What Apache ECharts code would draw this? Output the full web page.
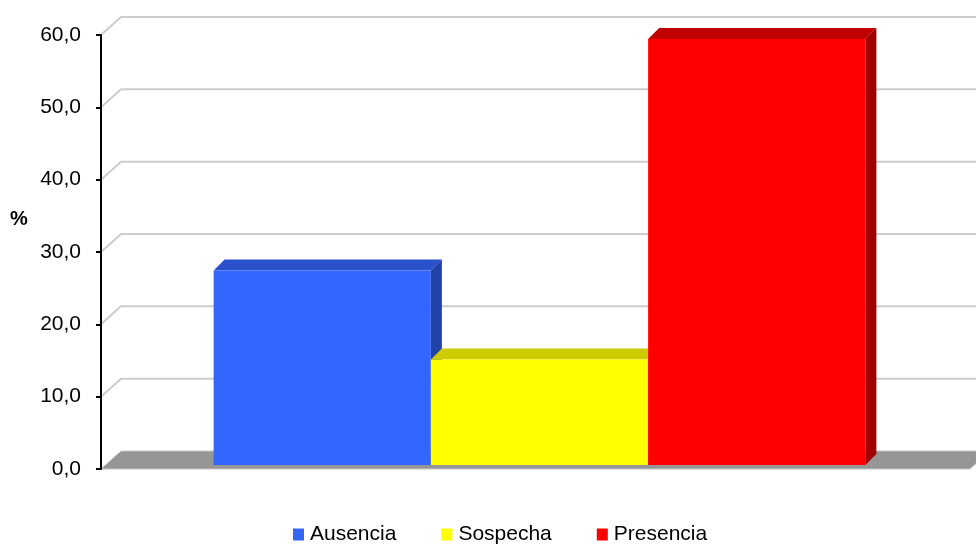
<!DOCTYPE html>
<html>
<head>
<meta charset="utf-8">
<script src="https://cdn.jsdelivr.net/npm/echarts@6/dist/echarts.min.js"></script>
<style>
  html, body { margin: 0; padding: 0; background: #ffffff; }
  #chart { width: 976px; height: 544px; }
</style>
</head>
<body>
<div id="chart"></div>
<script>
// Single category group holding the three series side by side
const categories = [''];
const seriesNames = ['Ausencia', 'Sospecha', 'Presencia'];
const values = [26.9, 14.6, 58.9];
const gridValues = [10, 20, 30, 40, 50, 60];

const frontColors = ['#3366FF', '#FFFF00', '#FF0000'];
const topColors = ['#2A50CC', '#CCCC00', '#C00000'];
const sideColors = ['#2142A6', '#A6A600', '#A00000'];

// Perspective offsets (pixels)
const WALL_DX = 20, WALL_DY = -18;   // back wall relative to the front plane
const FACE_DX = 4, FACE_DY = -4;     // bar front face depth
const BAR_DX = 11, BAR_DY = -11;     // bar depth

const chart = echarts.init(document.getElementById('chart'));

function barRenderer(idx) {
  return function (params, api) {
    const v = api.value(1);
    const band = api.size([1, 0])[0];
    const w = band / 4;
    const center = api.coord([api.value(0), 0]);
    const xl = center[0] - 1.5 * w + idx * w + FACE_DX;
    const xr = xl + w;
    const yb = center[1] + FACE_DY;
    const yt = api.coord([api.value(0), v])[1] + FACE_DY;
    return {
      type: 'group',
      children: [
        { type: 'polygon', shape: { points: [[xl, yt], [xl + BAR_DX, yt + BAR_DY], [xr + BAR_DX, yt + BAR_DY], [xr, yt]] },
          style: { fill: topColors[idx] } },
        { type: 'polygon', shape: { points: [[xr, yt], [xr + BAR_DX, yt + BAR_DY], [xr + BAR_DX, yb + BAR_DY], [xr, yb]] },
          style: { fill: sideColors[idx] } },
        { type: 'rect', shape: { x: xl, y: yt, width: w, height: yb - yt },
          style: { fill: frontColors[idx] } }
      ]
    };
  };
}

const barSeries = seriesNames.map(function (name, i) {
  return {
    name: name,
    type: 'custom',
    z: 10,
    itemStyle: { color: frontColors[i] },
    renderItem: barRenderer(i),
    data: [[categories[0], values[i]]]
  };
});

// Back-wall gridlines with their diagonal link to the value axis
const gridSeries = {
  type: 'custom',
  silent: true,
  z: 2,
  renderItem: function (params, api) {
    const cs = params.coordSys;
    const y = api.coord([categories[0], api.value(1)])[1];
    const x0 = cs.x;
    return {
      type: 'polyline',
      shape: { points: [[x0, y], [x0 + WALL_DX, y + WALL_DY], [cs.x + cs.width + 40, y + WALL_DY]] },
      style: { stroke: '#CCCCCC', lineWidth: 2, fill: null }
    };
  },
  data: gridValues.map(function (v) { return [categories[0], v]; })
};

// Floor of the plot
const floorSeries = {
  type: 'custom',
  silent: true,
  z: 3,
  renderItem: function (params, api) {
    const cs = params.coordSys;
    const y = api.coord([categories[0], 0])[1];
    const x0 = cs.x, x1 = cs.x + cs.width;
    return {
      type: 'polygon',
      shape: { points: [[x0, y], [x0 + WALL_DX, y + WALL_DY], [x1 + WALL_DX, y + WALL_DY], [x1, y]] },
      style: { fill: '#969696', stroke: '#C4C4C4', lineWidth: 1 }
    };
  },
  data: [[categories[0], 0]]
};

chart.setOption({
  backgroundColor: '#ffffff',
  animation: false,
  textStyle: { fontFamily: 'Liberation Sans, Arial, sans-serif' },
  title: {
    text: '%',
    left: 10,
    top: 209,
    padding: [0, 0, 0, 0],
    textStyle: { fontSize: 20, fontWeight: 'bold', color: '#000000', fontFamily: 'Liberation Sans, Arial, sans-serif' }
  },
  legend: {
    data: seriesNames,
    left: 293,
    top: 524,
    padding: 0,
    icon: 'rect',
    itemWidth: 11,
    itemHeight: 12,
    itemGap: 45,
    textStyle: { fontSize: 21, color: '#000000', padding: [0, 0, 0, 1] }
  },
  grid: { left: 101, right: 6, top: 35, bottom: 75, containLabel: false },
  xAxis: {
    type: 'category',
    data: categories,
    axisLine: { show: false },
    axisTick: { show: false },
    axisLabel: { show: false },
    splitLine: { show: false }
  },
  yAxis: {
    type: 'value',
    min: 0,
    max: 60,
    interval: 10,
    axisLine: { show: true, lineStyle: { color: '#000000', width: 2 } },
    axisTick: { show: true, inside: false, length: 5, lineStyle: { color: '#000000', width: 2 } },
    axisLabel: {
      margin: 20,
      fontSize: 21,
      color: '#000000',
      formatter: function (v) { return v.toFixed(1).replace('.', ','); }
    },
    splitLine: { show: false },
    z: 20
  },
  series: [gridSeries, floorSeries].concat(barSeries)
});
</script>
</body>
</html>
